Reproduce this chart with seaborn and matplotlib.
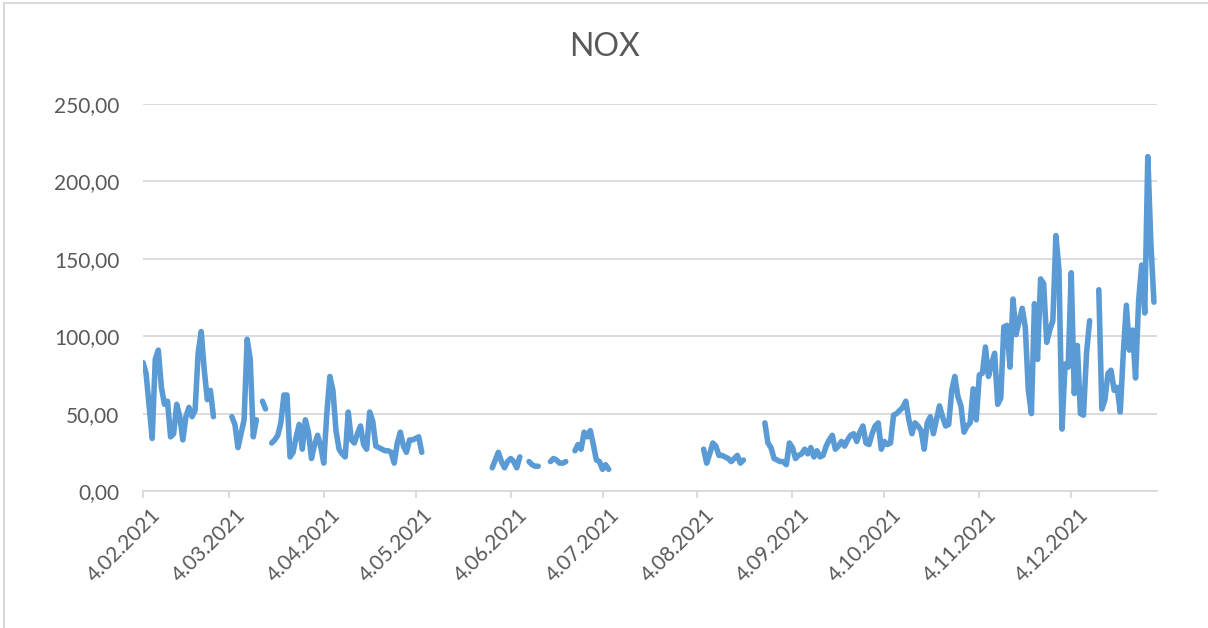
import numpy as np
import pandas as pd
import matplotlib
matplotlib.use('Agg')
import matplotlib.pyplot as plt
import matplotlib.transforms as mtransforms
from matplotlib.lines import Line2D
import seaborn as sns

nan = np.nan

# daily NOX values, 4.02.2021 - 31.12.2021 (nan = no data)
feb = [83, 76, 55, 34, 85, 91, 67, 56, 58, 35, 37, 56, 48, 33, 48, 54, 48, 52, 89, 103,
       78, 59, 65, 48, nan]
mar = [nan, nan, nan, nan, 48, 43, 28, 37, 46, 98, 85, 35, 46, nan, 58, 53, nan, 31, 33, 36,
       44, 62, 62, 22, 25, 35, 43, 27, 46, 38, 21]
apr = [30, 36, 29, 18, 50, 74, 65, 39, 27, 24, 22, 51, 33, 31, 37, 42, 30, 27, 51, 45,
       29, 28, 27, 26, 26, 25, 18, 31, 38, 29]
may = [25, 33, 33, 34, 35, 25] + [nan] * 22 + [15, 20, 25]
jun = [19, 15, 19, 21, 19, 15, 22, nan, nan, 19, 17, 16, 16, nan, nan, nan, 19, 21, 20, 18,
       18, 19, nan, nan, 26, 30, 27, 38, 35, 39]
jul = [30, 20, 19, 14, 17, 14] + [nan] * 25
aug = [nan] * 5 + [27, 18, 24, 31, 29, 23, 23, 22, 21, 19, 21, 23, 18, 20] + [nan] * 6 + \
      [44, 31, 28, 21, 20, 19]
sep = [19, 17, 31, 28, 21, 23, 24, 27, 24, 28, 22, 26, 22, 23, 29, 33, 36, 27, 29, 32,
       29, 33, 36, 37, 32, 38, 42, 31, 30, 37]
oct_ = [42, 44, 27, 32, 30, 31, 49, 50, 52, 54, 58, 46, 37, 44, 42, 39, 27, 44, 48, 37,
        46, 55, 48, 42, 43, 65, 74, 61, 55, 38, 42]
nov = [44, 66, 46, 75, 76, 93, 74, 82, 89, 56, 60, 106, 107, 80, 124, 101, 110, 118, 106, 65,
       50, 121, 85, 137, 134, 96, 104, 110, 165, 143]
dec = [40, 82, 80, 141, 63, 94, 50, 49, 89, 110, nan, nan, 130, 53, 59, 76, 78, 65, 67, 51,
       89, 120, 91, 104, 73, 123, 146, 115, 216, 160, 122]

tick_dates = ['2021-02-04', '2021-03-04', '2021-04-04', '2021-05-04', '2021-06-04', '2021-07-04',
              '2021-08-04', '2021-09-04', '2021-10-04', '2021-11-04', '2021-12-04']
tick_labels = ['4.02.2021', '4.03.2021', '4.04.2021', '4.05.2021', '4.06.2021', '4.07.2021',
               '4.08.2021', '4.09.2021', '4.10.2021', '4.11.2021', '4.12.2021']
y_ticks = [0, 50, 100, 150, 200, 250]

values = feb + mar + apr + may + jun + jul + aug + sep + oct_ + nov + dec
df = pd.DataFrame({'date': pd.date_range('2021-02-04', '2021-12-31', freq='D'), 'nox': values})
df['seg'] = df['nox'].isna().cumsum()
df = df.dropna()

sns.set_theme(style='white')
plt.rcParams['font.family'] = ['Lato', 'DejaVu Sans']

grey_txt = '#595959'
grey_line = '#D9D9D9'

fig = plt.figure(figsize=(12.08, 6.28), dpi=100)
ax = fig.add_axes([143 / 1208, 1 - 491 / 628, (1157 - 143) / 1208, (491 - 104) / 628])

sns.lineplot(data=df, x='date', y='nox', units='seg', estimator=None, ax=ax,
             color='#5B9BD5', linewidth=4, solid_capstyle='round', solid_joinstyle='round')

ax.set_xlim(pd.Timestamp('2021-02-04'), pd.Timestamp('2022-01-01'))
ax.set_ylim(0, 250)
ax.set_yticks(y_ticks)
ax.set_yticklabels([f'{v:.2f}'.replace('.', ',') for v in y_ticks])
ax.set_xticks(pd.to_datetime(tick_dates))
ax.set_xticklabels(tick_labels, rotation=45, ha='right', rotation_mode='anchor')

ax.set_xlabel('')
ax.set_ylabel('')
ax.grid(axis='y', color=grey_line, linewidth=1.3)
ax.grid(axis='x', visible=False)
for s in ['left', 'right', 'top']:
    ax.spines[s].set_visible(False)
ax.spines['bottom'].set_color(grey_line)
ax.spines['bottom'].set_linewidth(1.3)
ax.tick_params(axis='y', length=0, pad=17, labelsize=15, labelcolor=grey_txt)
ax.tick_params(axis='x', bottom=True, length=5, width=1.3, color=grey_line, direction='out',
               pad=5, labelsize=15, labelcolor=grey_txt)

# nudge the rotated date labels a little to the right, like the original
shift = mtransforms.ScaledTranslation(7 / 100, 0, fig.dpi_scale_trans)
for lbl in ax.get_xticklabels():
    lbl.set_transform(lbl.get_transform() + shift)

fig.text(0.5, 1 - 47 / 628, 'NOX', ha='center', va='center', fontsize=23, color=grey_txt)

# chart border
fig.add_artist(Line2D([4 / 1208, 4 / 1208], [0, 1 - 3 / 628], color=grey_line, lw=1.5))
fig.add_artist(Line2D([4 / 1208, 1], [1 - 3 / 628, 1 - 3 / 628], color=grey_line, lw=1.5))

fig.savefig('out.png', dpi=100)
